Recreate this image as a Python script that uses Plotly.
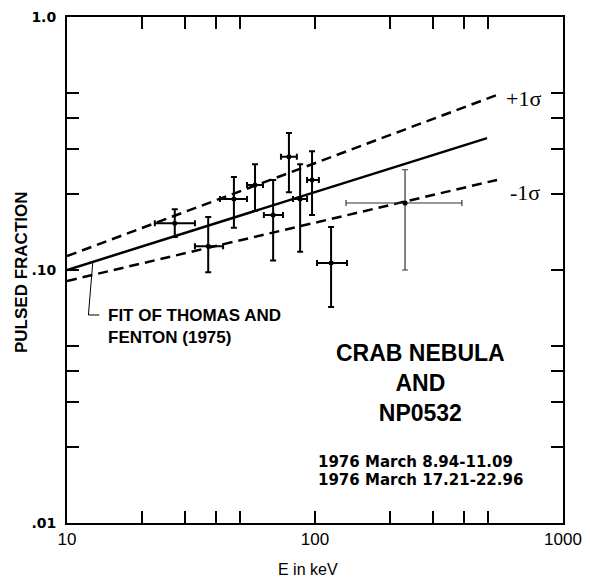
import plotly.graph_objects as go

# ---- data ----
energy = [27.2, 37.1, 47.1, 57.3, 67.8, 78.5, 87.1, 97.3, 116.1]
e_low = [22.6, 32.8, 41.4, 53.2, 62.2, 72.9, 81.5, 92.9, 101.9]
e_high = [32.8, 42.6, 53.2, 61.7, 74.3, 84.5, 92.9, 103.7, 134.6]
frac = [0.153, 0.124, 0.191, 0.217, 0.165, 0.280, 0.191, 0.227, 0.1066]
frac_low = [0.135, 0.098, 0.147, 0.171, 0.109, 0.203, 0.118, 0.165, 0.0714]
frac_high = [0.174, 0.162, 0.233, 0.262, 0.227, 0.348, 0.262, 0.295, 0.148]

wide_energy = [230.7]
wide_e_low = [133.4]
wide_e_high = [391.0]
wide_frac = [0.184]
wide_frac_low = [0.100]
wide_frac_high = [0.249]

fit_x = [10, 494]
fit_y = [0.100, 0.332]
upper_x = [10, 542]
upper_y = [0.1135, 0.492]
lower_x = [10, 542]
lower_y = [0.0905, 0.227]

leader_x = [12.7, 12.2, 13.5]
leader_y = [0.107, 0.0664, 0.0664]

x_tickvals = [10, 100, 1000]
x_ticktext = ["10", "100", "1000"]
y_tickvals = [0.01, 0.1, 1.0]
y_ticktext = [".01", ".10", "1.0"]
x_minor = [20, 30, 40, 50, 200, 300, 400, 500]
y_minor = [0.02, 0.03, 0.04, 0.05, 0.2, 0.3, 0.4, 0.5]

fig = go.Figure()

fig.add_trace(go.Scatter(x=fit_x, y=fit_y, mode="lines",
                         line=dict(color="black", width=2.5), showlegend=False))
for xs, ys in [(upper_x, upper_y), (lower_x, lower_y)]:
    fig.add_trace(go.Scatter(x=xs, y=ys, mode="lines",
                             line=dict(color="black", width=2.5, dash="10px,6px"),
                             showlegend=False))

fig.add_trace(go.Scatter(x=leader_x, y=leader_y, mode="lines",
                         line=dict(color="black", width=1), showlegend=False))


def add_points(xv, xl, xh, yv, yl, yh, w, col):
    fig.add_trace(go.Scatter(
        x=xv, y=yv, mode="markers",
        marker=dict(color="black", size=5),
        error_x=dict(type="data", symmetric=False,
                     array=[h - v for h, v in zip(xh, xv)],
                     arrayminus=[v - l for v, l in zip(xv, xl)],
                     color=col, thickness=w, width=3),
        error_y=dict(type="data", symmetric=False,
                     array=[h - v for h, v in zip(yh, yv)],
                     arrayminus=[v - l for v, l in zip(yv, yl)],
                     color=col, thickness=w, width=3),
        showlegend=False))


add_points(energy, e_low, e_high, frac, frac_low, frac_high, 2, "black")
add_points(wide_energy, wide_e_low, wide_e_high, wide_frac, wide_frac_low, wide_frac_high,
           1.2, "#333333")

axis_common = dict(showline=True, linecolor="black", linewidth=2, mirror="ticks",
                   ticks="inside", ticklen=12, tickwidth=1.5, tickcolor="black",
                   showgrid=False, zeroline=False, automargin=False)

fig.update_xaxes(type="log", range=[1, 3], tickvals=x_tickvals, ticktext=x_ticktext,
                 tickfont=dict(family="Liberation Sans", size=17, color="black"),
                 minor=dict(tickvals=x_minor, ticks="inside", ticklen=12,
                            tickwidth=1.5, tickcolor="black", showgrid=False),
                 **axis_common)
fig.update_yaxes(type="log", range=[-2, 0], tickvals=y_tickvals, ticktext=y_ticktext,
                 tickfont=dict(family="DejaVu Sans", size=14, color="black", weight="bold"),
                 ticklabelstandoff=6,
                 minor=dict(tickvals=y_minor, ticks="inside", ticklen=12,
                            tickwidth=1.5, tickcolor="black", showgrid=False),
                 **axis_common)


def px_x(px):
    return (px - 67) / 496


def px_y(py):
    return (523 - py) / 506


def add_text(text, px, py, family, size, xanchor="center", align="center", angle=0):
    fig.add_annotation(xref="paper", yref="paper", showarrow=False,
                       x=px_x(px), y=px_y(py), xanchor=xanchor, yanchor="middle",
                       align=align, text=text, textangle=angle,
                       font=dict(family=family, size=size, color="black"))


# axis titles
add_text("<b>PULSED FRACTION</b>", 21, 272, "Liberation Sans", 17, angle=-90)
add_text("E in keV", 308, 569, "Liberation Sans", 16)

add_text("+1σ", 523, 99, "Liberation Serif", 22)
add_text("-1σ", 525, 192, "Liberation Serif", 22)
add_text("<b>FIT OF THOMAS AND<br>FENTON (1975)</b>", 106, 326, "Liberation Sans", 17,
         xanchor="left", align="left")
add_text("<b>CRAB NEBULA<br>AND<br>NP0532</b>", 420, 383, "Liberation Sans", 23)
add_text("<b>1976 March 8.94-11.09</b>", 316, 462, "DejaVu Sans", 15, xanchor="left")
add_text("<b>1976 March 17.21-22.96</b>", 316, 480, "DejaVu Sans", 15, xanchor="left")

fig.update_layout(width=590, height=581, margin=dict(l=67, r=27, t=17, b=58),
                  plot_bgcolor="white", paper_bgcolor="white")

fig.write_html("out.html")
